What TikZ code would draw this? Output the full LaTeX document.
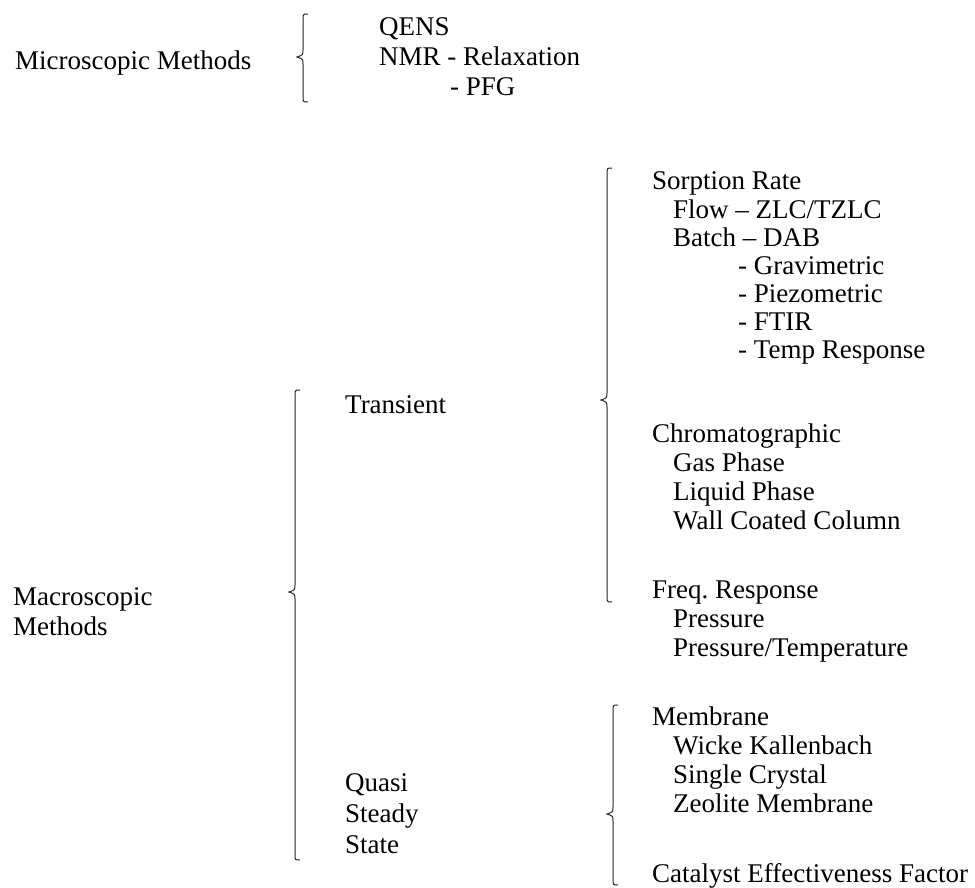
\documentclass[tikz,border=0pt]{standalone}
\usepackage{fontspec}
\setmainfont{Liberation Serif}

\tikzset{
  entry/.style={anchor=base west, inner sep=0pt},
  curly/.style={draw=black!85, line width=1pt}
}
% x, top, middle, bottom
\newcommand{\sidebrace}[4]{%
  \draw[curly] (#1+5,#2) .. controls (#1,#2) .. (#1,#2+6) -- (#1,#3-7)
    .. controls (#1,#3-2) .. (#1-6,#3) .. controls (#1,#3+2) .. (#1,#3+7)
    -- (#1,#4-6) .. controls (#1,#4) .. (#1+5,#4);}

\begin{document}
\begin{tikzpicture}[x=1pt,y=-1pt,font=\fontsize{27}{29}\selectfont]
\useasboundingbox (0,0) rectangle (975,887);

% microscopic
\node[entry] (micro) at (15,69) {Microscopic Methods};
\sidebrace{303}{14}{57}{102}
\node[entry] (qens) at (379,35) {QENS};
\node[entry] (nmr) at (379,65) {NMR - Relaxation};
\node[entry] (pfg) at (450,95) {- PFG};

% macroscopic
\node[entry] (macro) at (13,605) {Macroscopic};
\node[entry] (macro2) at (13,635) {Methods};
\sidebrace{295}{390}{592}{860}
\node[entry] (trans) at (345,413) {Transient};
\node[entry] (quasi) at (345,791) {Quasi};
\node[entry] (steady) at (345,822) {Steady};
\node[entry] (state) at (345,853) {State};

% transient
\sidebrace{607}{168}{400}{602}
\node[entry] (sorp) at (652,189) {Sorption Rate};
\node[entry] (flow) at (673,218) {Flow -- ZLC/TZLC};
\node[entry] (batch) at (673,246) {Batch -- DAB};
\node[entry] (grav) at (738,274) {- Gravimetric};
\node[entry] (piezo) at (738,302) {- Piezometric};
\node[entry] (ftir) at (738,330) {- FTIR};
\node[entry] (temp) at (738,358) {- Temp Response};
\node[entry] (chrom) at (652,442) {Chromatographic};
\node[entry] (gas) at (673,471) {Gas Phase};
\node[entry] (liq) at (673,500) {Liquid Phase};
\node[entry] (wall) at (673,529) {Wall Coated Column};
\node[entry] (freq) at (652,598) {Freq.\ Response};
\node[entry] (pres) at (673,627) {Pressure};
\node[entry] (prestemp) at (673,656) {Pressure/Temperature};

% quasi steady state
\sidebrace{613}{705}{814}{885}
\node[entry] (memb) at (652,725) {Membrane};
\node[entry] (wicke) at (673,754) {Wicke Kallenbach};
\node[entry] (single) at (673,783) {Single Crystal};
\node[entry] (zeol) at (673,812) {Zeolite Membrane};
\node[entry] (cat) at (652,882) {Catalyst Effectiveness Factor};
\end{tikzpicture}
\end{document}
